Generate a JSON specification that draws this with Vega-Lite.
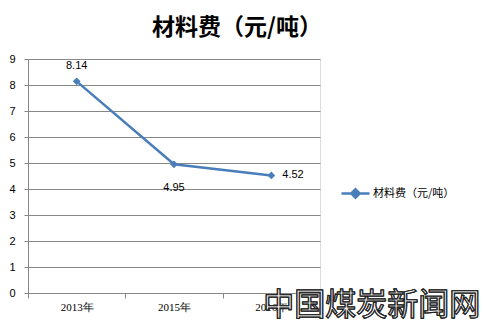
{
  "$schema": "https://vega.github.io/schema/vega-lite/v6.json",
  "width": 292,
  "height": 234,
  "autosize": "none",
  "padding": {"left": 28, "top": 59, "right": 163, "bottom": 36},
  "background": "white",
  "title": {
    "text": "材料费（元/吨）",
    "font": "Noto Sans CJK SC",
    "fontSize": 23,
    "fontWeight": "bold",
    "color": "#000000",
    "anchor": "middle",
    "frame": "group",
    "dx": 63,
    "baseline": "bottom",
    "offset": -10
  },
  "data": {
    "values": [
      {"year": "2013年", "value": 8.14, "series": "材料费（元/吨）"},
      {"year": "2015年", "value": 4.95, "series": "材料费（元/吨）"},
      {"year": "2016年", "value": 4.52, "series": "材料费（元/吨）"}
    ]
  },
  "encoding": {
    "x": {
      "field": "year",
      "type": "ordinal",
      "scale": {"type": "band", "paddingInner": 0, "paddingOuter": 0},
      "axis": {
        "title": null,
        "labelAngle": 0,
        "tickBand": "extent",
        "grid": false,
        "domainColor": "#878787",
        "tickColor": "#878787",
        "tickSize": 5,
        "labelPadding": 3,
        "labelFont": "Liberation Serif",
        "labelFontSize": 11,
        "labelColor": "#000000"
      }
    },
    "y": {
      "field": "value",
      "type": "quantitative",
      "scale": {"domain": [0, 9], "nice": false},
      "axis": {
        "title": null,
        "values": [0, 1, 2, 3, 4, 5, 6, 7, 8, 9],
        "grid": true,
        "gridColor": "#878787",
        "domainColor": "#878787",
        "tickColor": "#878787",
        "tickSize": 4,
        "labelPadding": 9,
        "labelFont": "Liberation Sans",
        "labelFontSize": 11,
        "labelColor": "#000000"
      }
    }
  },
  "layer": [
    {
      "mark": {
        "type": "line",
        "strokeWidth": 2.5,
        "point": {"shape": "diamond", "size": 60, "filled": true, "color": "#4a7ebb"}
      },
      "encoding": {
        "color": {
          "field": "series",
          "type": "nominal",
          "scale": {"range": ["#4a7ebb"]},
          "legend": {
            "title": null,
            "orient": "none",
            "legendX": 312,
            "legendY": 119,
            "symbolType": "M-1,0H1M-0.3,0L0,-0.3L0.3,0L0,0.3Z",
            "symbolSize": 784,
            "symbolFillColor": "#4a7ebb",
            "symbolStrokeColor": "#4a7ebb",
            "symbolStrokeWidth": 2.5,
            "labelFont": "Noto Sans CJK SC",
            "labelFontSize": 11,
            "labelColor": "#000000",
            "labelOffset": 2
          }
        }
      }
    },
    {
      "transform": [{"filter": "datum.year == '2013年'"}],
      "mark": {"type": "text", "dy": -15, "font": "Liberation Sans", "fontSize": 11, "color": "#000000"},
      "encoding": {"text": {"field": "value", "type": "quantitative", "format": ".2f"}}
    },
    {
      "transform": [{"filter": "datum.year == '2015年'"}],
      "mark": {"type": "text", "dy": 24, "font": "Liberation Sans", "fontSize": 11, "color": "#000000"},
      "encoding": {"text": {"field": "value", "type": "quantitative", "format": ".2f"}}
    },
    {
      "transform": [{"filter": "datum.year == '2016年'"}],
      "mark": {"type": "text", "dx": 11, "align": "left", "font": "Liberation Sans", "fontSize": 11, "color": "#000000"},
      "encoding": {"text": {"field": "value", "type": "quantitative", "format": ".2f"}}
    },
    {
      "mark": {
        "type": "text",
        "align": "left",
        "baseline": "middle",
        "dx": -8,
        "dy": 13,
        "font": "Noto Sans CJK SC",
        "fontSize": 31,
        "fill": "white",
        "fillOpacity": 0.6,
        "stroke": "#222222",
        "strokeWidth": 1
      },
      "encoding": {
        "x": {"datum": "2016年"},
        "y": {"datum": 0},
        "text": {"value": "中国煤炭新闻网"}
      }
    }
  ]
}
